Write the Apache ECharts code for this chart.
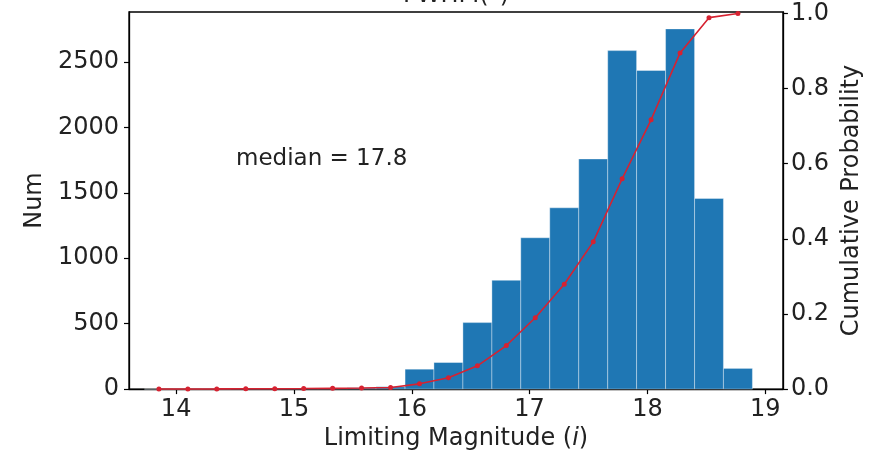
<!DOCTYPE html>
<html>
<head>
<meta charset="utf-8">
<script src="https://cdn.jsdelivr.net/npm/echarts@6/dist/echarts.min.js"></script>
<style>html,body{margin:0;padding:0;background:#fff}#c{width:872px;height:456px}</style>
</head>
<body>
<div id="c"></div>
<script>
// Histogram bin edges (limiting magnitude, i band)
const binEdges = [13.731, 13.977, 14.222, 14.468, 14.714, 14.960, 15.205, 15.451, 15.697, 15.943,
  16.188, 16.434, 16.680, 16.925, 17.171, 17.417, 17.663, 17.908, 18.154, 18.400, 18.645, 18.891];
// Counts per bin
const counts = [1, 2, 3, 4, 5, 6, 8, 10, 18,
  152, 203, 508, 831, 1156, 1385, 1758, 2586, 2434, 2752, 1456, 158];
// Cumulative probability at bin centres
const cumulative = [0.0001, 0.0003, 0.0005, 0.0008, 0.0011, 0.0015, 0.002, 0.0028, 0.0044,
  0.014, 0.03, 0.062, 0.116, 0.19, 0.279, 0.392, 0.56, 0.717, 0.895, 0.989, 1.0];
const xTicks = [14, 15, 16, 17, 18, 19];
const yTicks = [0, 500, 1000, 1500, 2000, 2500];
const probTicks = [0, 0.2, 0.4, 0.6, 0.8, 1.0];
const medianText = 'median = 17.8';
const titleText = 'FWHM(")';

const FONT = 'DejaVu Sans';
const chart = echarts.init(document.getElementById('c'), null, {renderer: 'canvas'});

const barData = counts.map((c, i) => [binEdges[i], binEdges[i + 1], c]);
const lineData = cumulative.map((p, i) => [(binEdges[i] + binEdges[i + 1]) / 2, p]);

const tickStyle = {show: true, inside: false, length: 5, lineStyle: {color: '#000', width: 1.2}};

chart.setOption({
  animation: false,
  backgroundColor: '#fff',
  grid: {left: 129, right: 88, top: 12, bottom: 66, show: true, borderColor: '#000', borderWidth: 1.3, backgroundColor: 'transparent'},
  xAxis: {
    type: 'value', min: 13.6, max: 19.15,
    axisLine: {show: true, onZero: false, lineStyle: {color: '#000', width: 1.3}},
    axisTick: Object.assign({customValues: xTicks}, tickStyle),
    axisLabel: {customValues: xTicks, margin: 9, color: '#222', fontFamily: FONT, fontSize: 24,
      formatter: v => String(v)},
    splitLine: {show: false},
    name: 'Limiting Magnitude ({it|i})',
    nameLocation: 'middle', nameGap: 34,
    nameTextStyle: {color: '#222', fontFamily: FONT, fontSize: 24,
      rich: {it: {fontStyle: 'italic', fontFamily: FONT, fontSize: 24, color: '#222'}}}
  },
  yAxis: [{
    type: 'value', min: 0, max: 2881, position: 'left',
    axisLine: {show: true, lineStyle: {color: '#000', width: 1.3}},
    axisTick: Object.assign({customValues: yTicks}, tickStyle),
    axisLabel: {customValues: yTicks, margin: 10, color: '#222', fontFamily: FONT, fontSize: 24,
      formatter: v => String(v)},
    splitLine: {show: false},
    name: 'Num', nameLocation: 'middle', nameGap: 80, nameRotate: 90,
    nameTextStyle: {color: '#222', fontFamily: FONT, fontSize: 24}
  }, {
    type: 'value', min: 0, max: 1.004, position: 'right',
    axisLine: {show: true, lineStyle: {color: '#000', width: 1.3}},
    axisTick: Object.assign({customValues: probTicks}, tickStyle),
    axisLabel: {customValues: probTicks, margin: 8, color: '#222', fontFamily: FONT, fontSize: 24,
      formatter: v => v.toFixed(1)},
    splitLine: {show: false},
    name: 'Cumulative Probability', nameLocation: 'middle', nameGap: 53, nameRotate: 90,
    nameTextStyle: {color: '#222', fontFamily: FONT, fontSize: 24}
  }],
  series: [{
    type: 'custom',
    xAxisIndex: 0, yAxisIndex: 0,
    data: barData,
    encode: {x: [0, 1], y: 2},
    renderItem: function (params, api) {
      const p0 = api.coord([api.value(0), api.value(2)]);
      const p1 = api.coord([api.value(1), 0]);
      return {
        type: 'rect',
        shape: {x: p0[0], y: p0[1], width: p1[0] - p0[0], height: p1[1] - p0[1]},
        style: {fill: '#1f77b4', stroke: 'rgba(255,255,255,0.45)', lineWidth: 0.8}
      };
    },
    z: 2
  }, {
    type: 'line',
    xAxisIndex: 0, yAxisIndex: 1,
    data: lineData,
    symbol: 'circle', symbolSize: 5,
    lineStyle: {color: '#d62231', width: 1.6},
    itemStyle: {color: '#d62231'},
    z: 3
  }],
  graphic: [{
    type: 'text', left: 236, top: 148,
    style: {text: medianText, font: '23px "DejaVu Sans"', fill: '#222'}
  }, {
    type: 'text', x: 456, y: 8,
    style: {text: titleText, font: '24px "DejaVu Sans"', fill: '#222', textAlign: 'center', textVerticalAlign: 'bottom'}
  }]
});
</script>
</body>
</html>
